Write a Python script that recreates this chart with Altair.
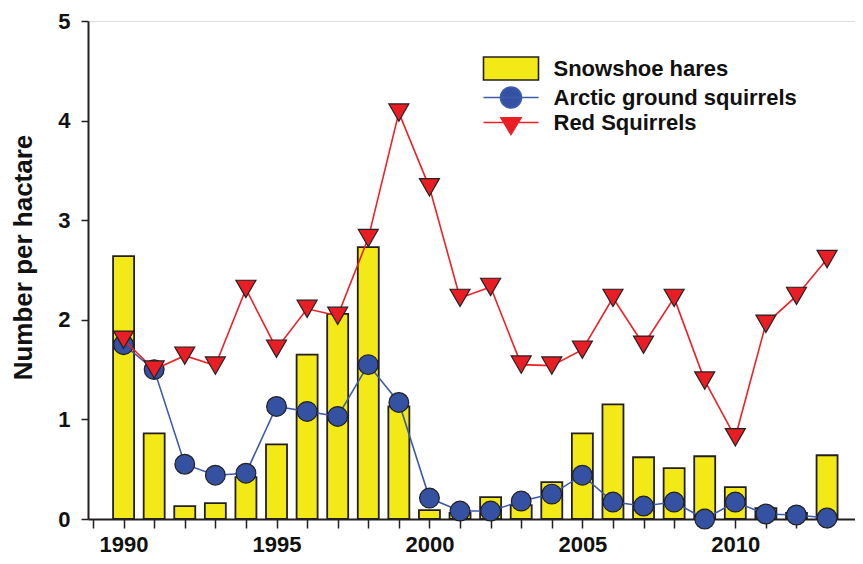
import altair as alt
import pandas as pd

years = list(range(1990, 2014))
hares = [2.64, 0.86, 0.13, 0.16, 0.42, 0.75, 1.65, 2.06, 2.73, 1.13, 0.09, 0.06,
         0.22, 0.14, 0.37, 0.86, 1.15, 0.62, 0.51, 0.63, 0.32, 0.11, 0.06, 0.64]
ground = [1.75, 1.50, 0.55, 0.44, 0.46, 1.13, 1.08, 1.03, 1.55, 1.17, 0.21, 0.08,
          0.08, 0.18, 0.25, 0.44, 0.17, 0.13, 0.17, 0.00, 0.17, 0.05, 0.04, 0.01]
red = [1.80, 1.50, 1.64, 1.54, 2.31, 1.71, 2.11, 2.04, 2.82, 4.08, 3.33, 2.22,
       2.33, 1.55, 1.54, 1.70, 2.22, 1.75, 2.22, 1.39, 0.82, 1.96, 2.24, 2.61]

series_names = ["Snowshoe hares", "Arctic ground squirrels", "Red Squirrels"]
fill_colors = ["#f2e917", "#3551a2", "#e91e25"]
line_colors = ["#3d5bab", "#ec2128"]
outline = "#231f20"
FONT = "Liberation Sans"
y_title = "Number per hactare"

bars_df = pd.DataFrame({"year": years, "value": hares, "series": series_names[0]})
ground_df = pd.DataFrame({"year": years, "value": ground, "series": series_names[1]})
red_df = pd.DataFrame({"year": years, "value": red, "series": series_names[2]})
legend_df = pd.DataFrame({"year": [1990] * 3, "value": [0] * 3, "series": series_names})

# legend symbol paths (unit = 10 px at symbolSize 400)
rect_path = "M-2.75,-1.15H2.75V1.15H-2.75Z"
circ_path = "M-2.75,0H2.75M-1.05,0A1.05,1.05,0,1,1,1.05,0A1.05,1.05,0,1,1,-1.05,0Z"
tri_path = "M-2.75,0H2.75M-1,-0.46L1,-0.46L0,1.2Z"
legend_strokes = [outline, line_colors[0], line_colors[1]]


def make_legend():
    return alt.Legend(
        title=None, orient="none", legendX=412, legendY=36.5,
        symbolSize=400, symbolOffset=0, labelOffset=31.5, padding=0, rowPadding=0,
        symbolStrokeWidth=1.6, symbolOpacity=1,
        labelFont=FONT, labelFontSize=22, labelFontWeight="bold", labelColor="#111",
        labelLimit=400,
    )


x_axis = alt.Axis(
    values=list(range(1989, 2014)), format="d",
    labelExpr="datum.value % 5 === 0 ? datum.label : ''",
    title=None, grid=False, tickSize=9, tickWidth=1.5, tickColor=outline,
    domainColor=outline, domainWidth=2, labelFont=FONT, labelFontSize=22,
    labelFontWeight="bold", labelColor="#111", labelPadding=6,
    labelFlush=False, labelOverlap=False,
)
y_axis = alt.Axis(
    values=[0, 1, 2, 3, 4, 5], format="d", title=y_title, grid=False, tickSize=7,
    tickWidth=1.5, tickColor=outline, domainColor=outline, domainWidth=2,
    labelFont=FONT, labelFontSize=22, labelFontWeight="bold",
    labelColor="#111", labelPadding=11, titleFont=FONT, titleFontSize=26,
    titleFontWeight="bold", titleColor="#111", titlePadding=21,
    titleY=236, labelOverlap=False,
)


def xy():
    return dict(
        x=alt.X("year:Q", scale=alt.Scale(domain=[1989, 2013.75], nice=False, zero=False),
                axis=x_axis),
        y=alt.Y("value:Q", scale=alt.Scale(domain=[0, 5], nice=False), axis=y_axis),
    )


bars = alt.Chart(bars_df).mark_bar(
    size=21, color=fill_colors[0], stroke=outline, strokeWidth=1.8
).encode(**xy())

ground_line = alt.Chart(ground_df).mark_line(color=line_colors[0], strokeWidth=1.6).encode(**xy())
ground_pts = alt.Chart(ground_df).mark_point(
    shape="circle", filled=True, color=fill_colors[1], stroke=outline,
    strokeWidth=1.2, size=390, opacity=1).encode(**xy())
red_line = alt.Chart(red_df).mark_line(color=line_colors[1], strokeWidth=1.6).encode(**xy())
red_pts = alt.Chart(red_df).mark_point(
    shape="triangle-down", filled=True, color=fill_colors[2], stroke=outline,
    strokeWidth=1.2, size=400, opacity=1).encode(**xy())

# legend-only layer: no rows survive the filter, the legend comes from the scales
legend_layer = alt.Chart(legend_df).transform_filter("false").mark_point(
    filled=True, opacity=1, size=400).encode(
    **xy(),
    fill=alt.Fill("series:N", scale=alt.Scale(domain=series_names, range=fill_colors),
                  legend=make_legend()),
    stroke=alt.Stroke("series:N", scale=alt.Scale(domain=series_names, range=legend_strokes),
                      legend=make_legend()),
    shape=alt.Shape("series:N", scale=alt.Scale(domain=series_names,
                                                range=[rect_path, circ_path, tri_path]),
                    legend=make_legend()),
)

chart = alt.layer(bars, ground_line, ground_pts, red_line, red_pts, legend_layer).properties(
    width=767, height=498,
    autosize=alt.AutoSizeParams(type="none"),
    padding={"left": 80, "top": 13, "right": 0, "bottom": 37},
).configure_view(stroke=None).configure(background="white").configure_axis(
    labelOverlap=False)

chart.save("out.html", embed_options={"renderer": "svg", "actions": False})
